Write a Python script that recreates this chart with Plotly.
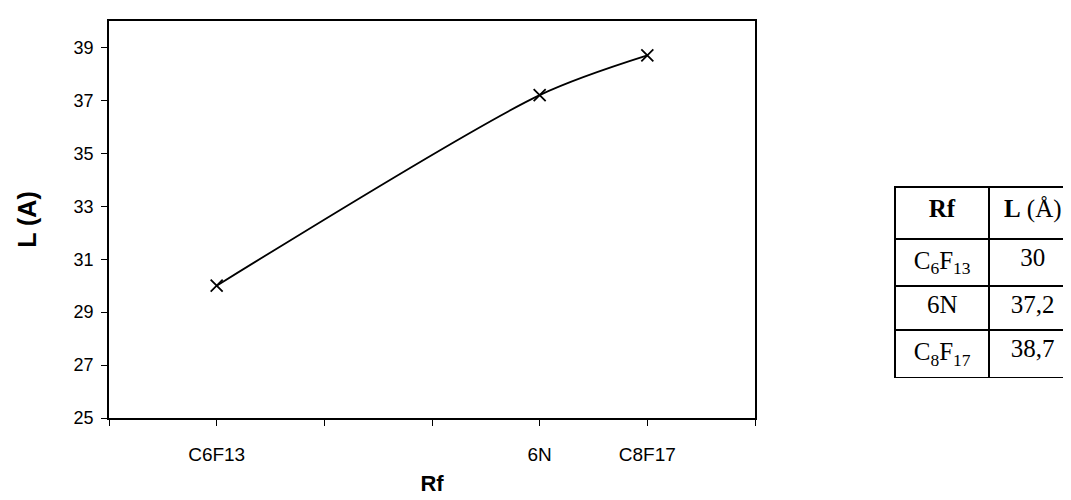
import plotly.graph_objects as go

# données
rf_labels = ['C6F13', '6N', 'C8F17']
rf_pos = [1, 4, 5]
longueur = [30, 37.2, 38.7]

y_ticks = [25, 27, 29, 31, 33, 35, 37, 39]

tab_rf = ['C<sub>6</sub>F<sub>13</sub>', '6N', 'C<sub>8</sub>F<sub>17</sub>']
tab_l = ['30', '37,2', '38,7']
tab_head = ['<b>Rf</b>', '<b>L</b>\u00a0(Å)']

W, H = 1071, 500

fig = go.Figure()

fig.add_trace(go.Scatter(
    x=rf_pos, y=longueur,
    mode='lines+markers',
    line=dict(color='black', width=1.8, shape='spline', smoothing=0.8),
    marker=dict(symbol='x-thin', size=12, line=dict(color='black', width=1.8)),
    showlegend=False
))

# tableau à droite (marges à 0, donc le domaine = la page)
fig.add_trace(go.Table(
    domain=dict(x=[887 / W, 1069 / W], y=[130 / H, 321 / H]),
    columnwidth=[95, 87],
    header=dict(
        values=tab_head,
        align='center',
        height=52,
        line=dict(color='black', width=2),
        fill=dict(color='white'),
        font=dict(family='Liberation Serif', size=25, color='black')
    ),
    cells=dict(
        values=[tab_rf, tab_l],
        align='center',
        height=44,
        line=dict(color='black', width=2),
        fill=dict(color='white'),
        font=dict(family='Liberation Serif', size=25, color='black')
    )
))

fig.update_xaxes(
    domain=[101 / W, 747 / W],
    range=[0, 6],
    tickvals=rf_pos,
    ticktext=rf_labels,
    ticks='outside', ticklen=6, tickcolor='black',
    minor=dict(dtick=1, tick0=0, ticks='outside', ticklen=6, tickcolor='black'),
    ticklabelstandoff=12,
    showline=True, linecolor='black', linewidth=1.5, mirror=True,
    showgrid=False, zeroline=False, automargin=False,
    tickfont=dict(family='Liberation Sans', size=19, color='black'),
    title=dict(text='<b>Rf</b>', font=dict(family='Liberation Sans', size=22, color='black'), standoff=12)
)
fig.update_yaxes(
    domain=[90 / H, 487 / H],
    range=[25, 40],
    tickvals=y_ticks,
    ticks='outside', ticklen=6, tickcolor='black',
    ticklabelstandoff=4,
    showline=True, linecolor='black', linewidth=1.5, mirror=True,
    showgrid=False, zeroline=False, automargin=False,
    tickfont=dict(family='Liberation Sans', size=18, color='black'),
    title=dict(text='<b>L (A)</b>', font=dict(family='Liberation Sans', size=25, color='black'), standoff=30)
)

fig.update_layout(
    width=W, height=H,
    margin=dict(l=0, r=0, t=0, b=0),
    plot_bgcolor='white', paper_bgcolor='white'
)

fig.write_html('out.html')
